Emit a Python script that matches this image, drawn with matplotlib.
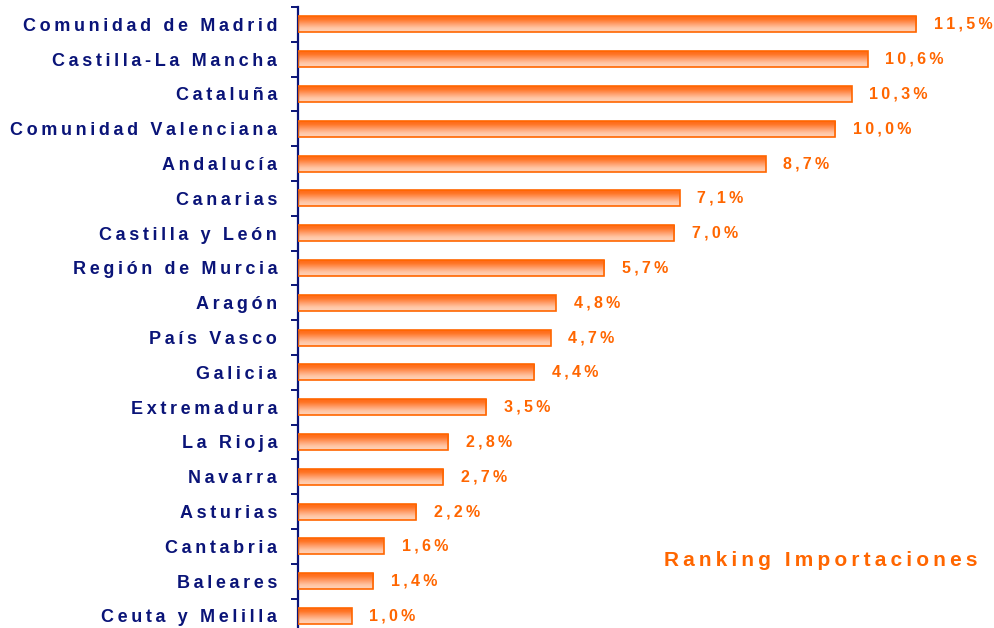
import matplotlib
matplotlib.use('Agg')
from matplotlib import pyplot as plt
import numpy as np

regiones = ['Comunidad de Madrid', 'Castilla-La Mancha', 'Cataluña',
            'Comunidad Valenciana', 'Andalucía', 'Canarias', 'Castilla y León',
            'Región de Murcia', 'Aragón', 'País Vasco', 'Galicia',
            'Extremadura', 'La Rioja', 'Navarra', 'Asturias', 'Cantabria',
            'Baleares', 'Ceuta y Melilla']
valores = [11.5, 10.6, 10.3, 10.0, 8.7, 7.1, 7.0, 5.7, 4.8, 4.7, 4.4,
           3.5, 2.8, 2.7, 2.2, 1.6, 1.4, 1.0]
titulo = 'Ranking Importaciones'

navy = '#0A1478'
naranja = '#FF6600'
fuente = ['Liberation Sans', 'DejaVu Sans']


def espaciar(s):
    # separación entre letras como en el original
    return '\u2009'.join(s)


W, H = 994, 628
fig = plt.figure(figsize=(W / 100, H / 100), dpi=100)

x0, top, paso = 298, 7, 34.8
escala = 53.74
ax = fig.add_axes([x0 / W, (H - (top + paso * len(regiones))) / H,
                   (W - x0) / W, paso * len(regiones) / H])
ax.patch.set_alpha(0)

y = np.arange(len(regiones))
barras = ax.barh(y, valores, height=0.46, color='none', edgecolor=naranja,
                 linewidth=1.2, zorder=3)

# degradado vertical en cada barra
cmap = matplotlib.colors.LinearSegmentedColormap.from_list(
    'nar', ['#FF6410', '#FF7526', '#FF9C68', '#FFC4A2', '#FFD4BC'])
grad = np.linspace(0, 1, 64).reshape(-1, 1)
for b in barras:
    bx, by = b.get_x(), b.get_y()
    bw, bh = b.get_width(), b.get_height()
    im = ax.imshow(grad, cmap=cmap, aspect='auto',
                   extent=(bx, bx + bw, by + bh, by), zorder=2)
    im.set_clip_path(b)
ax.set_xlim(0, (W - x0) / escala)
ax.set_ylim(len(regiones) - 0.5, -0.5)

for yi, v in zip(y, valores):
    ax.text(v + 0.33, yi, espaciar(f'{v:.1f}%'.replace('.', ',')),
            color=naranja, fontsize=11.5, fontweight='bold', family=fuente,
            va='center', ha='left', zorder=4)

for s in ['top', 'right', 'bottom']:
    ax.spines[s].set_visible(False)
ax.spines['left'].set_color(navy)
ax.spines['left'].set_linewidth(1.6)
ax.set_xticks([])
ax.set_yticks(np.arange(len(regiones) + 1) - 0.5)
ax.set_yticklabels([])
ax.set_yticks(y, minor=True)
ax.set_yticklabels([espaciar(r) for r in regiones], minor=True,
                   fontsize=13, fontweight='bold', color=navy, family=fuente)
ax.tick_params(axis='y', which='major', length=5, width=1.4, color=navy,
               direction='out')
ax.tick_params(axis='y', which='minor', length=0, pad=15)

fig.text(978 / W, 1 - 561 / H, espaciar(titulo), color=naranja, fontsize=15,
         fontweight='bold', family=fuente, ha='right', va='center')

fig.savefig('out.png', dpi=100)
